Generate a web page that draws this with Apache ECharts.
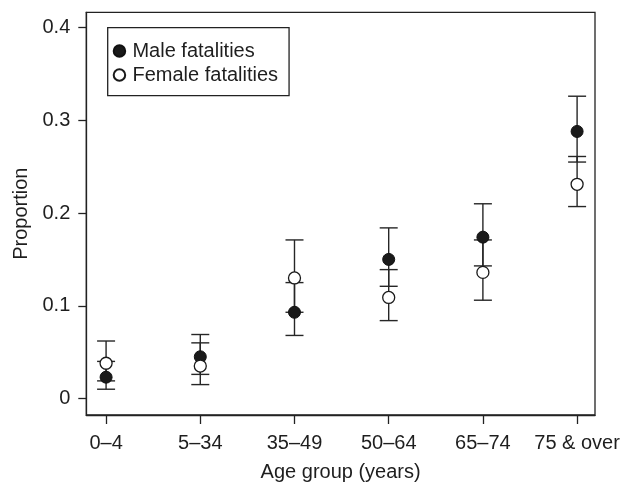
<!DOCTYPE html>
<html>
<head>
<meta charset="utf-8">
<script src="https://cdn.jsdelivr.net/npm/echarts@6/dist/echarts.min.js"></script>
<style>
html,body{margin:0;padding:0;background:#fff;}
#chart{width:633px;height:487px;}
</style>
</head>
<body>
<div id="chart"></div>
<script>
const categories = ['0–4', '5–34', '35–49', '50–64', '65–74', '75 & over'];
const maleProp = [0.023, 0.045, 0.093, 0.150, 0.174, 0.288];
const maleLow  = [0.010, 0.026, 0.068, 0.121, 0.143, 0.255];
const maleHigh = [0.040, 0.069, 0.125, 0.184, 0.210, 0.326];
const femaleProp = [0.038, 0.035, 0.130, 0.109, 0.136, 0.231];
const femaleLow  = [0.019, 0.015, 0.093, 0.084, 0.106, 0.207];
const femaleHigh = [0.062, 0.060, 0.171, 0.139, 0.171, 0.261];
const yTicks = [0, 0.1, 0.2, 0.3, 0.4];

const FONT = "'Liberation Sans', Arial, Helvetica, sans-serif";
const INK = '#1e1e1e';
const FS = 20;
const catIdx = categories.map((c, i) => i);

const errData = [];
categories.forEach((c, i) => {
  errData.push([i, maleLow[i], maleHigh[i]]);
  errData.push([i, femaleLow[i], femaleHigh[i]]);
});

function renderErr(params, api) {
  const x = api.value(0);
  const lo = api.coord([x, api.value(1)]);
  const hi = api.coord([x, api.value(2)]);
  const hw = 9;
  const st = { stroke: '#262626', lineWidth: 1.4 };
  return {
    type: 'group',
    children: [
      { type: 'line', shape: { x1: lo[0], y1: lo[1], x2: hi[0], y2: hi[1] }, style: st },
      { type: 'line', shape: { x1: lo[0] - hw, y1: lo[1], x2: lo[0] + hw, y2: lo[1] }, style: st },
      { type: 'line', shape: { x1: hi[0] - hw, y1: hi[1], x2: hi[0] + hw, y2: hi[1] }, style: st }
    ]
  };
}

const chart = echarts.init(document.getElementById('chart'), null, { renderer: 'canvas' });
chart.setOption({
  animation: false,
  backgroundColor: '#fff',
  textStyle: { fontFamily: FONT, color: INK },
  grid: {
    left: 86.3, right: 38, top: 12.3, bottom: 65,
    show: true, borderColor: '#222', borderWidth: 1.3, backgroundColor: 'transparent'
  },
  legend: {
    orient: 'vertical',
    left: 107.7, top: 27.7,
    padding: [13.3, 11, 10.7, 5],
    itemGap: 4,
    itemWidth: 16, itemHeight: 11.5,
    borderColor: '#222', borderWidth: 1.3,
    textStyle: { fontFamily: FONT, fontSize: FS, color: INK },
    data: ['Male fatalities', 'Female fatalities']
  },
  xAxis: {
    type: 'value',
    min: -0.21, max: 5.19,
    splitLine: { show: false },
    axisLine: { show: true, onZero: false, lineStyle: { color: '#222', width: 1.3 } },
    axisTick: { show: true, customValues: catIdx, length: 9, lineStyle: { color: '#222', width: 1.3 } },
    axisLabel: {
      customValues: catIdx, margin: 18,
      fontFamily: FONT, fontSize: FS, color: INK,
      formatter: v => categories[Math.round(v)]
    },
    name: 'Age group (years)',
    nameLocation: 'middle', nameGap: 47,
    nameTextStyle: { fontFamily: FONT, fontSize: FS, color: INK }
  },
  yAxis: {
    type: 'value',
    min: -0.0178, max: 0.4165,
    splitLine: { show: false },
    axisLine: { show: true, onZero: false, lineStyle: { color: '#222', width: 1.3 } },
    axisTick: { show: true, customValues: yTicks, length: 8, lineStyle: { color: '#222', width: 1.3 } },
    axisLabel: {
      customValues: yTicks, margin: 16,
      fontFamily: FONT, fontSize: FS, color: INK,
      formatter: v => (Math.abs(v) < 1e-9 ? '0' : v.toFixed(1))
    },
    name: 'Proportion',
    nameLocation: 'middle', nameGap: 53, nameRotate: 90,
    nameTextStyle: { fontFamily: FONT, fontSize: FS, color: INK }
  },
  series: [
    {
      type: 'custom',
      name: 'errors',
      renderItem: renderErr,
      data: errData,
      encode: { x: 0, y: [1, 2] },
      z: 1,
      silent: true
    },
    {
      type: 'scatter',
      name: 'Male fatalities',
      symbol: 'circle',
      symbolSize: 12,
      itemStyle: { color: '#1a1a1a', borderColor: '#111', borderWidth: 1, opacity: 1 },
      data: maleProp.map((v, i) => [i, v]),
      z: 3
    },
    {
      type: 'scatter',
      name: 'Female fatalities',
      symbol: 'circle',
      symbolSize: 12,
      itemStyle: { color: '#ffffff', borderColor: '#1a1a1a', borderWidth: 1.3, opacity: 1 },
      data: femaleProp.map((v, i) => [i, v]),
      z: 4
    }
  ]
});
</script>
</body>
</html>
